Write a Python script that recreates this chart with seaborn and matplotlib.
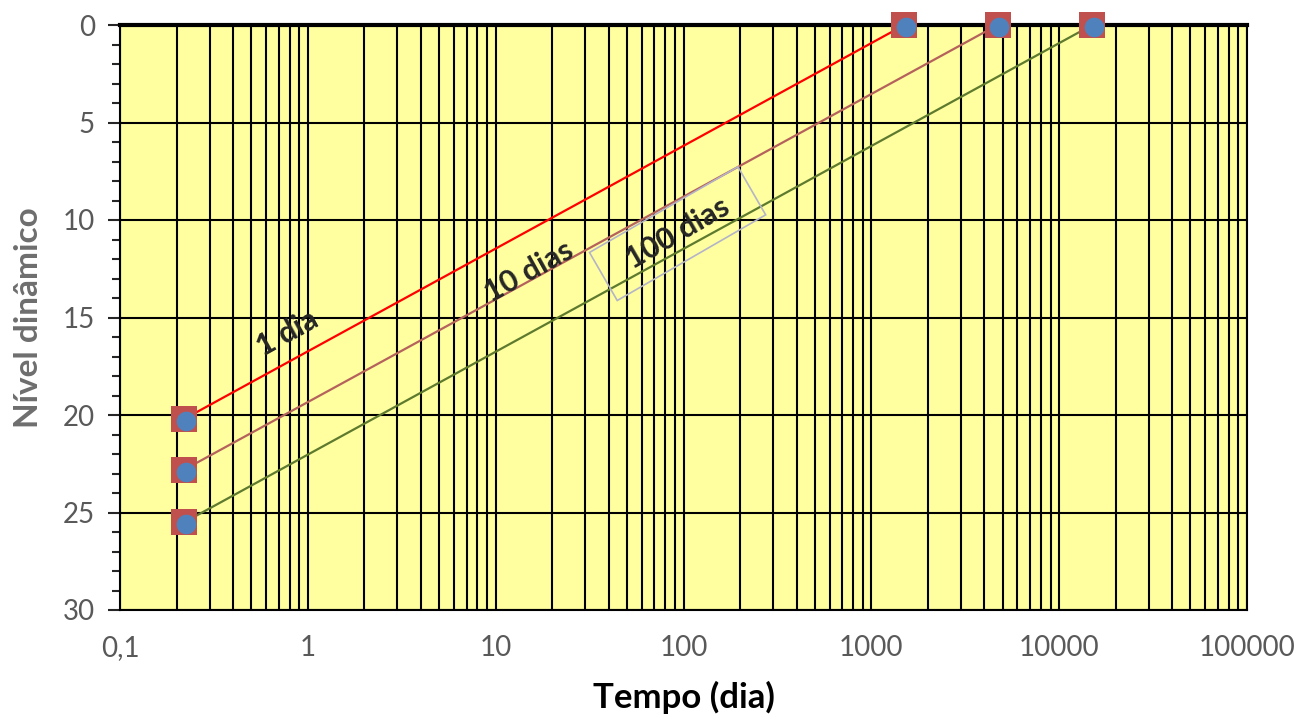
import numpy as np
import pandas as pd
import matplotlib
matplotlib.use('Agg')
import matplotlib.pyplot as plt
import seaborn as sns
from matplotlib.ticker import LogLocator, MultipleLocator, FuncFormatter

# 数据：三条直线（1 dia / 10 dias / 100 dias）
series_names = ['1 dia', '10 dias', '100 dias']
t_start = [0.22, 0.22, 0.22]
t_end = [1500, 4700, 15000]
s_start = [20.2, 22.8, 25.5]
s_end = [0, 0, 0]

# 方块点和圆点（圆点稍微偏右）
sq_t = [0.22, 0.22, 0.22, 1500, 4700, 15000]
sq_s = [20.2, 22.8, 25.5, 0, 0, 0]
ci_t = [0.225, 0.225, 0.225, 1530, 4800, 15300]
ci_s = [20.3, 22.9, 25.6, 0.1, 0.1, 0.1]

line_colors = ['#FF0000', '#B5625C', '#5E7A2E']

sns.set_style('ticks')
plt.rcParams['font.family'] = ['Lato', 'DejaVu Sans']

rows = []
for name, t0, t1, s0, s1 in zip(series_names, t_start, t_end, s_start, s_end):
    rows.append({'serie': name, 'tempo': t0, 'nivel': s0})
    rows.append({'serie': name, 'tempo': t1, 'nivel': s1})
df = pd.DataFrame(rows)

fig = plt.figure(figsize=(12.94, 7.17), dpi=100)
ax = fig.add_axes([120 / 1294, 1 - 610 / 717, 1127 / 1294, 585 / 717])
ax.set_facecolor('#FFFF9F')

sns.lineplot(data=df, x='tempo', y='nivel', hue='serie', palette=line_colors,
             linewidth=1.6, legend=False, ax=ax, zorder=3)

sns.scatterplot(x=sq_t, y=sq_s, marker='s', s=330, color='#C0504D',
                edgecolor='#C0504D', linewidth=0, ax=ax, zorder=4, clip_on=False)
sns.scatterplot(x=ci_t, y=ci_s, marker='o', s=200, color='#4F81BD',
                edgecolor='#4F81BD', linewidth=0, ax=ax, zorder=5, clip_on=False)

ax.set_xscale('log')
ax.set_xlim(0.1, 100000)
ax.set_ylim(30, 0)

# 网格线
ax.xaxis.set_major_locator(LogLocator(base=10, numticks=10))
ax.xaxis.set_minor_locator(LogLocator(base=10, subs=np.arange(2, 10), numticks=20))
ax.grid(True, which='both', axis='x', color='black', linewidth=1.5, zorder=1)
ax.yaxis.set_major_locator(MultipleLocator(5))
ax.yaxis.set_minor_locator(MultipleLocator(1))
ax.grid(True, which='major', axis='y', color='black', linewidth=1.5, zorder=1)
ax.set_axisbelow(True)

def fmt_x(v, pos):
    if v < 1:
        return f'{v:g}'.replace('.', ',')
    return f'{int(round(v))}'
ax.xaxis.set_major_formatter(FuncFormatter(fmt_x))

ax.tick_params(axis='x', which='both', length=0, pad=18, labelsize=20, labelcolor='#595959')
ax.tick_params(axis='y', which='major', length=9, width=1.5, labelsize=20, labelcolor='#595959', pad=9)
ax.tick_params(axis='y', which='minor', length=6, width=1.5)

for sp in ax.spines.values():
    sp.set_color('black')
    sp.set_linewidth(1.5)
ax.spines['top'].set_linewidth(3)

ax.set_xlabel('Tempo (dia)', fontsize=25, fontweight='bold', color='black', labelpad=14)
ax.set_ylabel('Nível dinâmico', fontsize=24, fontweight='bold', color='#6E6E6E', labelpad=14)

# 直线上的标注
ax.text(0.78, 15.8, '1 dia', fontsize=22, fontweight='bold', rotation=29,
        ha='center', va='center', rotation_mode='anchor', zorder=6)
ax.text(15, 12.67, '10 dias', fontsize=22, fontweight='bold', rotation=29,
        ha='center', va='center', rotation_mode='anchor', zorder=6)
ax.text(93, 10.7, '  100 dias  ', fontsize=22, fontweight='bold', rotation=30,
        ha='center', va='center', rotation_mode='anchor', zorder=6,
        bbox=dict(boxstyle='square,pad=0.45', facecolor='none', edgecolor='#B4B4C8', linewidth=1.2))

fig.savefig('out.png', dpi=100)
